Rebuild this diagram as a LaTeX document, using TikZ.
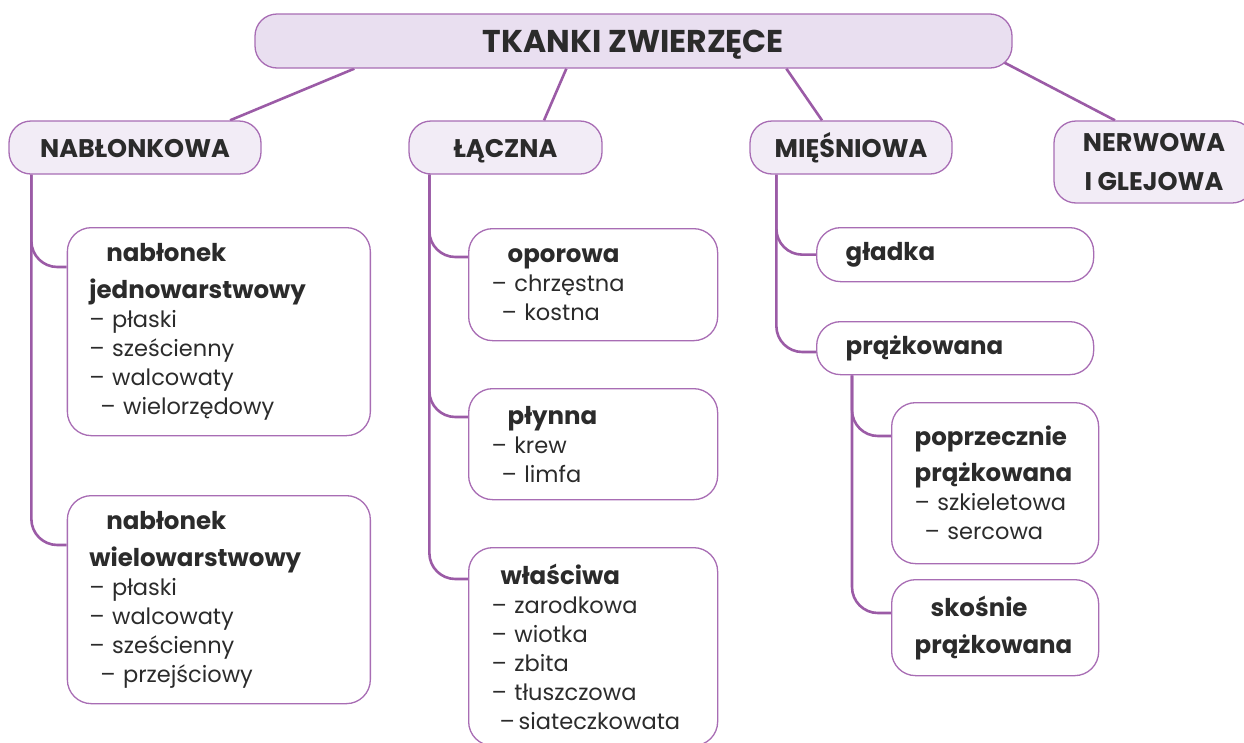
\documentclass[tikz,border=0pt]{standalone}
\usepackage{fontspec}
\setmainfont{Poppins}
\usetikzlibrary{positioning, backgrounds}

\definecolor{tkline}{HTML}{9B5BA6}
\definecolor{tkborder}{HTML}{A86DB4}
\definecolor{rootfill}{HTML}{E9DFF0}
\definecolor{groupfill}{HTML}{F2ECF6}
\definecolor{tktext}{HTML}{2B2B2B}

\newcommand{\tkhead}[1]{{\fontsize{24.5}{29}\selectfont\bfseries #1}}

\begin{document}
\begin{tikzpicture}[x=1pt, y=-1pt,
  every node/.style={text=tktext},
  root/.style={draw=tkborder, fill=rootfill, line width=1.3pt, rounded corners=22pt, minimum width=757pt, minimum height=54pt, text height=27pt, text depth=4pt, font=\fontsize{31.5}{40}\selectfont\bfseries},
  group/.style={draw=tkborder, fill=groupfill, line width=1.3pt, rounded corners=22pt, minimum height=53pt, align=center, font=\fontsize{25.5}{39}\selectfont\bfseries},
  oneline/.style={text height=24pt, text depth=4pt},
  leaf/.style={draw=tkborder, fill=white, line width=1.3pt, rounded corners=24pt, anchor=north west, align=left, inner ysep=0pt, font=\fontsize{22.5}{29}\selectfont},
  link/.style={draw=tkline, line width=2.6pt},
  branch/.style={draw=tkline, line width=2.6pt, rounded corners=26pt}]

\useasboundingbox (0,0) rectangle (1244,742);

% Root
\node[root] (root) at (633.5,41) {TKANKI ZWIERZĘCE};

% Groups
\node[group, oneline, minimum width=252pt] (nab) at (135,147.5) {NABŁONKOWA};
\node[group, oneline, minimum width=193pt] (lacz) at (505.5,147.5) {ŁĄCZNA};
\node[group, oneline, minimum width=202pt] (miesn) at (851,147.5) {MIĘŚNIOWA};
\node[group, minimum width=200pt, minimum height=82pt] (nerw) at (1154,162) {NERWOWA\\I GLEJOWA};

% Nablonkowa
\node[leaf, text width=259pt, inner xsep=22pt, minimum height=208pt] (jedno) at (66.7,227)
  {\tkhead{\hspace*{17pt}nabłonek}\\[8pt]\tkhead{jednowarstwowy}\\– płaski\\– sześcienny\\– walcowaty\\\hspace*{11pt}– wielorzędowy};
\node[leaf, text width=259pt, inner xsep=22pt, minimum height=208pt] (wielo) at (66.7,495)
  {\tkhead{\hspace*{17pt}nabłonek}\\[8pt]\tkhead{wielowarstwowy}\\– płaski\\– walcowaty\\– sześcienny\\\hspace*{11pt}– przejściowy};

% Laczna
\node[leaf, text width=203pt, inner xsep=23pt, minimum height=112pt] (opor) at (468,228)
  {\tkhead{\hspace*{16pt}oporowa}\\– chrzęstna\\\hspace*{10pt}– kostna};
\node[leaf, text width=203pt, inner xsep=23pt, minimum height=111pt] (plyn) at (468,388)
  {\tkhead{\hspace*{16pt}płynna}\\– krew\\\hspace*{10pt}– limfa};
\node[leaf, text width=203pt, inner xsep=23pt, minimum height=198pt] (wlasc) at (468,547)
  {\tkhead{\hspace*{9pt}właściwa}\\– zarodkowa\\– wiotka\\– zbita\\– tłuszczowa\\\hspace*{8pt}–\,siateczkowata};

% Miesniowa
\node[leaf, text width=219pt, inner xsep=29pt, minimum height=54pt] (gladka) at (816,227)
  {\tkhead{gładka}};
\node[leaf, text width=219pt, inner xsep=29pt, minimum height=53pt] (prazk) at (816,321)
  {\tkhead{prążkowana}};
\node[leaf, text width=161pt, inner xsep=23pt, minimum height=161pt] (poprz) at (891,402)
  {\tkhead{poprzecznie}\\[7pt]\tkhead{prążkowana}\\– szkieletowa\\\hspace*{10pt}– sercowa};
\node[leaf, text width=161pt, inner xsep=23pt, minimum height=96pt] (skos) at (891,579)
  {\tkhead{\hspace*{16pt}skośnie}\\[8pt]\tkhead{prążkowana}};

% Connections
\begin{scope}[on background layer]
\draw[link] ([xshift=100pt]root.south west) -- ([xshift=95pt]nab.north);
\draw[link] ([xshift=312pt]root.south west) -- ([xshift=38.5pt]lacz.north);
\draw[link] ([xshift=532pt]root.south west) -- ([xshift=-29pt]miesn.north);
\draw[link] ([xshift=-12pt,yshift=8pt]root.south east) -- ([xshift=-39pt]nerw.north);

\draw[branch] ([xshift=23pt]nab.south west) |- ([yshift=-40pt]jedno.north west);
\draw[branch] ([xshift=23pt]nab.south west) |- ([yshift=-50pt]wielo.north west);
\draw[branch] ([xshift=21pt]lacz.south west) |- ([yshift=-29pt]opor.north west);
\draw[branch] ([xshift=21pt]lacz.south west) |- ([yshift=-29pt]plyn.north west);
\draw[branch] ([xshift=21pt]lacz.south west) |- ([yshift=-32pt]wlasc.north west);
\draw[branch] ([xshift=27pt]miesn.south west) |- (gladka.west);
\draw[branch] ([xshift=27pt]miesn.south west) |- ([yshift=-31pt]prazk.north west);
\draw[branch] ([xshift=36pt]prazk.south west) |- ([yshift=-34pt]poprz.north west);
\draw[branch] ([xshift=36pt]prazk.south west) |- ([yshift=-34pt]skos.north west);
\end{scope}

\end{tikzpicture}
\end{document}
